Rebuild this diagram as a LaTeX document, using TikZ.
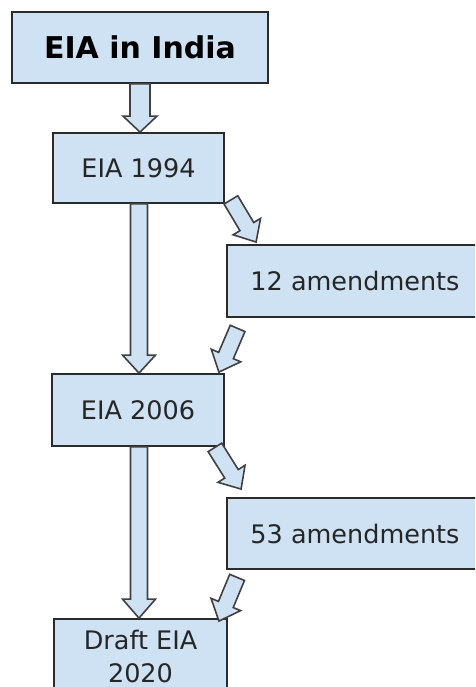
\documentclass[tikz,border=0pt]{standalone}
\usepackage{fontspec}
\setmainfont{DejaVu Sans}
\usetikzlibrary{calc}
\definecolor{boxfill}{HTML}{CFE2F3}
\definecolor{edgecol}{HTML}{2B2B2B}
\tikzset{
  box/.style={draw=edgecol, line width=1.8pt, fill=boxfill, inner sep=0pt,
    text=black!85, font=\fontsize{25.5}{33}\selectfont, align=center},
  titlebox/.style={box, font=\bfseries\fontsize{30}{36}\selectfont, text=black},
  barrowstyle/.style={draw=edgecol!90, line width=1.6pt, fill=boxfill, line join=miter}
}
% from, to, shaft half width, head half width, head length
\newcommand\blockarrow[5]{%
  \path let \p1=($(#2)-(#1)$) in
    \pgfextra{\pgfmathparse{atan2(\y1,\x1)}\xdef\bang{\pgfmathresult}%
      \pgfmathparse{veclen(\x1,\y1)}\xdef\blen{\pgfmathresult}};
  \draw[barrowstyle, shift={(#1)}, rotate=\bang]
    (0pt,#3pt) -- ({\blen pt-#5pt},#3pt) -- ({\blen pt-#5pt},#4pt) -- (\blen pt,0pt)
    -- ({\blen pt-#5pt},-#4pt) -- ({\blen pt-#5pt},-#3pt) -- (0pt,-#3pt) -- cycle;
}
\begin{document}
\begin{tikzpicture}[x=1pt,y=-1pt]
\useasboundingbox (0,0) rectangle (475,687);
\clip (0,0) rectangle (475,687);
\node[titlebox, minimum width=256pt, minimum height=71pt] (title) at (140,47.5) {EIA in India};
\node[box, minimum width=171pt, minimum height=70pt] (n94) at (138.5,168) {EIA 1994};
\node[box, minimum width=256pt, minimum height=72pt] (n12) at (355,281) {12 amendments};
\node[box, minimum width=172pt, minimum height=72pt] (n06) at (138,410) {EIA 2006};
\node[box, minimum width=256pt, minimum height=71pt] (n53) at (355,533.5) {53 amendments};
\node[box, minimum width=173pt, minimum height=74pt] (ndr) at (140.5,656) {Draft EIA\\2020};

% vertical arrows
\coordinate (a0s) at (title.south);
\coordinate (a0e) at (a0s |- n94.north);
\coordinate (a1s) at ($(n94.south)+(0.5,0)$);
\coordinate (a1e) at (a1s |- n06.north);
\coordinate (a2s) at ($(n06.south)+(1,0)$);
\coordinate (a2e) at (a2s |- ndr.north);
% diagonal arrows
\coordinate (d1s) at ($(n94.south east)+(6,-4)$);
\coordinate (d1e) at ($(n12.north west)+(30,-2)$);
\coordinate (d2s) at ($(n12.south west)+(11.5,10.5)$);
\coordinate (d2e) at ($(n06.north east)+(-6,-1)$);
\coordinate (d3s) at ($(n06.south east)+(-10,0.5)$);
\coordinate (d3e) at ($(n53.north west)+(15,-8)$);
\coordinate (d4s) at ($(n53.south west)+(11,7.5)$);
\coordinate (d4e) at ($(ndr.north east)+(-9,3)$);

\blockarrow{a0s}{a0e}{10}{17}{16}
\blockarrow{a1s}{a1e}{8.5}{16.5}{18}
\blockarrow{a2s}{a2e}{8.5}{16.5}{19}
\blockarrow{d1s}{d1e}{8}{16}{18}
\blockarrow{d2s}{d2e}{8}{16}{18}
\blockarrow{d3s}{d3e}{8}{16}{18}
\blockarrow{d4s}{d4e}{8}{16}{18}
\end{tikzpicture}
\end{document}
